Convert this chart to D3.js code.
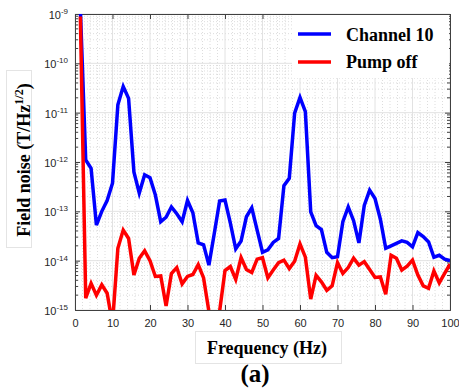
<!DOCTYPE html>
<html><head><meta charset="utf-8">
<script src="https://cdn.jsdelivr.net/npm/d3@7"></script>
<style>body{margin:0;background:#fff}</style>
</head><body>
<svg id="c" width="459" height="392"></svg>
<script>
// Frequencies (Hz) of the plotted points
const freq = [1.43,2.86,4.29,5.71,7.14,8.57,10,11.43,12.86,14.29,15.71,17.14,18.57,20,21.43,22.86,24.29,25.71,27.14,28.57,30,31.43,32.86,34.29,35.71,37.14,38.57,40,41.43,42.86,44.29,45.71,47.14,48.57,50,51.43,52.86,54.29,55.71,57.14,58.57,60,61.43,62.86,64.29,65.71,67.14,68.57,70,71.43,72.86,74.29,75.71,77.14,78.57,80,81.43,82.86,84.29,85.71,87.14,88.57,90,91.43,92.86,94.29,95.71,97.14,98.57,100];
// log10 of field noise (T/Hz^1/2)
const channel10Log = [-8.9,-11.96,-12.13,-13.28,-13.0,-12.78,-12.43,-10.84,-10.47,-10.71,-12.20,-12.63,-12.26,-12.32,-12.67,-13.21,-13.12,-12.91,-13.05,-13.21,-12.78,-13.03,-13.64,-13.68,-14.09,-13.45,-12.79,-12.77,-13.24,-13.76,-13.60,-13.11,-12.93,-13.38,-13.83,-13.78,-13.63,-13.55,-12.48,-12.33,-11.01,-10.69,-10.98,-13.01,-13.29,-13.37,-13.83,-13.94,-13.92,-13.21,-12.91,-13.19,-13.64,-12.88,-12.57,-12.74,-13.16,-13.75,-13.70,-13.65,-13.60,-13.63,-13.72,-13.43,-13.51,-13.62,-13.93,-13.89,-13.97,-14.0];
const pumpOffLog = [-9.05,-14.76,-14.46,-14.70,-14.49,-14.66,-15.28,-13.75,-13.38,-13.55,-14.29,-13.95,-13.80,-14.0,-14.32,-14.31,-14.92,-14.26,-14.14,-14.47,-14.32,-14.28,-14.08,-14.35,-15.03,-15.5,-15.02,-14.20,-14.12,-14.38,-13.94,-14.18,-14.24,-13.97,-13.94,-14.35,-14.19,-14.04,-13.99,-14.16,-14.01,-13.66,-13.93,-14.78,-14.30,-14.43,-14.60,-14.51,-14.04,-14.26,-14.14,-13.95,-14.09,-14.02,-14.18,-14.34,-14.33,-14.68,-13.89,-13.95,-14.19,-14.11,-13.99,-14.29,-14.51,-14.56,-14.21,-14.45,-14.26,-14.07];
const seriesNames = ["Channel 10", "Pump off"];
const seriesColors = ["#0000ff", "#ff0000"];
const xTicks = [0,10,20,30,40,50,60,70,80,90,100];
const yTickExps = [-15,-14,-13,-12,-11,-10,-9];

const svg = d3.select("#c");
const L = 75, R = 450, T = 14, B = 310;
const x = d3.scaleLinear().domain([0,100]).range([L,R]);
const y = d3.scaleLog().domain([1e-15,1e-9]).range([B,T]);

// minor grid
const g = svg.append("g");
for (let f = 2; f < 100; f += 2) {
  if (f % 10 === 0) continue;
  g.append("line").attr("x1",x(f)).attr("x2",x(f)).attr("y1",T).attr("y2",B)
    .attr("stroke","#d4d4d4").attr("stroke-width",0.8).attr("stroke-dasharray","1,2");
}
for (let e = -15; e < -9; e++) {
  for (let m = 2; m <= 9; m++) {
    const v = m * Math.pow(10, e);
    g.append("line").attr("x1",L).attr("x2",R).attr("y1",y(v)).attr("y2",y(v))
      .attr("stroke","#d4d4d4").attr("stroke-width",0.8).attr("stroke-dasharray","1,2");
  }
}
// major grid
xTicks.forEach(t => g.append("line").attr("x1",x(t)).attr("x2",x(t)).attr("y1",T).attr("y2",B)
  .attr("stroke","#e2e2e2").attr("stroke-width",1));
yTickExps.forEach(e => g.append("line").attr("x1",L).attr("x2",R).attr("y1",y(Math.pow(10,e))).attr("y2",y(Math.pow(10,e)))
  .attr("stroke","#e2e2e2").attr("stroke-width",1));

// axes with D3
const axC = "#404040";
const xa = svg.append("g").attr("transform",`translate(0,${B})`)
  .call(d3.axisBottom(x).tickValues(xTicks).tickSize(-5).tickPadding(9).tickFormat(d3.format("d")));
xa.select(".domain").attr("stroke",axC);
xa.selectAll(".tick line").attr("stroke",axC);
xa.selectAll("text").attr("fill","#262626").style("font-family","'Liberation Sans', Arial, sans-serif").style("font-size","11px");
const xt = svg.append("g").attr("transform",`translate(0,${T})`)
  .call(d3.axisTop(x).tickValues(xTicks).tickSize(-5).tickFormat(""));
xt.select(".domain").attr("stroke",axC);
xt.selectAll(".tick line").attr("stroke",axC);

const ya = svg.append("g").attr("transform",`translate(${L},0)`)
  .call(d3.axisLeft(y).tickValues(yTickExps.map(e=>Math.pow(10,e))).tickSize(-5).tickFormat(""));
ya.select(".domain").attr("stroke",axC);
ya.selectAll(".tick line").attr("stroke",axC);
const yr = svg.append("g").attr("transform",`translate(${R},0)`)
  .call(d3.axisRight(y).tickValues(yTickExps.map(e=>Math.pow(10,e))).tickSize(-5).tickFormat(""));
yr.select(".domain").attr("stroke",axC);
yr.selectAll(".tick line").attr("stroke",axC);
// minor y ticks
for (let e = -15; e < -9; e++) for (let m = 2; m <= 9; m++) {
  const v = m*Math.pow(10,e);
  svg.append("line").attr("x1",L).attr("x2",L+3).attr("y1",y(v)).attr("y2",y(v)).attr("stroke",axC);
  svg.append("line").attr("x1",R).attr("x2",R-3).attr("y1",y(v)).attr("y2",y(v)).attr("stroke",axC);
}
// y tick labels 10^n
yTickExps.forEach(e => {
  const t = svg.append("text").attr("x",68).attr("y",y(Math.pow(10,e))+5).attr("text-anchor","end")
    .attr("fill","#262626").style("font-family","'Liberation Sans', Arial, sans-serif").style("font-size","11px");
  t.append("tspan").text("10");
  t.append("tspan").attr("dy",-5).style("font-size","8px").text(String(e));
});

// lines
svg.append("clipPath").attr("id","clip").append("rect").attr("x",L).attr("y",T).attr("width",R-L).attr("height",B-T);
const line = d3.line().x(d=>x(d[0])).y(d=>y(d[1]));
[channel10Log, pumpOffLog].forEach((s,i) => {
  svg.append("path").attr("clip-path","url(#clip)")
    .datum(freq.map((f,k)=>[f, Math.pow(10, s[k])]))
    .attr("d",line).attr("fill","none").attr("stroke",seriesColors[i])
    .attr("stroke-width",3.5).attr("stroke-linejoin","miter");
});

// legend
svg.append("rect").attr("x",292).attr("y",T+1).attr("width",R-292-1).attr("height",63).attr("fill","#fff");
const legY = [34, 62], legBase = [41, 68];
seriesNames.forEach((n,i) => {
  svg.append("line").attr("x1",298).attr("x2",331).attr("y1",legY[i]).attr("y2",legY[i])
    .attr("stroke",seriesColors[i]).attr("stroke-width",3.5);
  svg.append("text").attr("x",346).attr("y",legBase[i]).text(n)
    .style("font-family","'Liberation Serif','Times New Roman',serif").style("font-weight","bold").style("font-size","18px").attr("fill","#000");
});

// axis label boxes
svg.append("rect").attr("x",6.5).attr("y",70.5).attr("width",25).attr("height",177).attr("fill","none").attr("stroke","#e4e4e4");
svg.append("rect").attr("x",195.5).attr("y",331.5).attr("width",146).attr("height",32).attr("fill","none").attr("stroke","#e4e4e4");

// axis labels
svg.append("text").attr("x",267).attr("y",354).attr("text-anchor","middle").text("Frequency (Hz)")
  .style("font-family","'Liberation Serif','Times New Roman',serif").style("font-weight","bold").style("font-size","18px");
const yl = svg.append("text").attr("transform","translate(30,160) rotate(-90)").attr("text-anchor","middle")
  .style("font-family","'Liberation Serif','Times New Roman',serif").style("font-weight","bold").style("font-size","18px");
yl.append("tspan").text("Field noise (T/Hz");
yl.append("tspan").attr("dy",-7).style("font-size","12px").text("1/2");
yl.append("tspan").attr("dy",7).text(")");

svg.append("text").attr("x",255).attr("y",382).attr("text-anchor","middle").text("(a)")
  .style("font-family","'Liberation Serif','Times New Roman',serif").style("font-weight","bold").style("font-size","25px");
</script>
</body></html>
